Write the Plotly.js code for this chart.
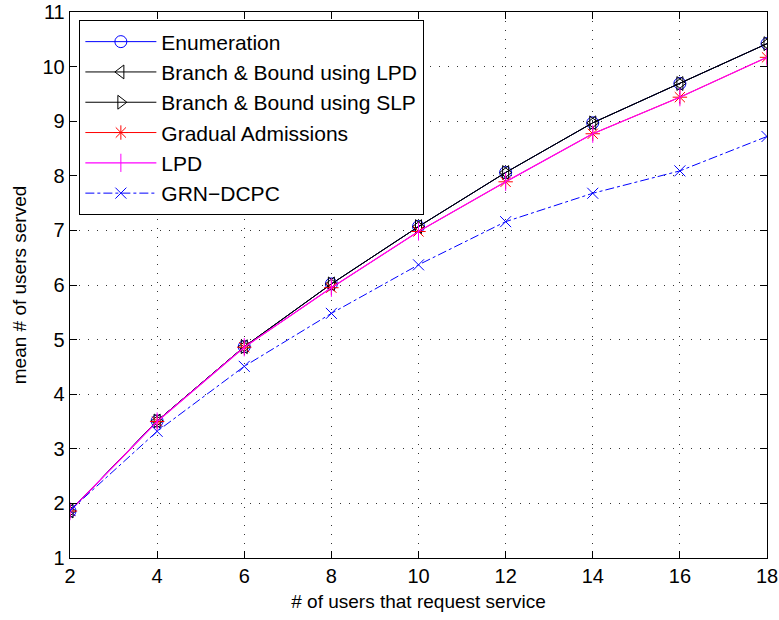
<!DOCTYPE html>
<html><head><meta charset="utf-8">
<script src="https://cdn.plot.ly/plotly-3.0.1.min.js"></script>
<style>body{margin:0;background:#fff}#plot{width:779px;height:620px}</style>
</head><body><div id="plot"></div>
<script>
const users = [2, 4, 6, 8, 10, 12, 14, 16, 18];
const enumeration = [1.86, 3.51, 4.87, 6.02, 7.07, 8.06, 8.97, 9.69, 10.42];
const bbLPD = [1.86, 3.51, 4.87, 6.02, 7.07, 8.06, 8.97, 9.69, 10.42];
const bbSLP = [1.86, 3.51, 4.87, 6.02, 7.07, 8.06, 8.97, 9.69, 10.42];
const gradual = [1.86, 3.50, 4.86, 5.95, 6.98, 7.89, 8.77, 9.44, 10.17];
const lpd = [1.86, 3.50, 4.86, 5.95, 6.98, 7.89, 8.77, 9.44, 10.17];
const grn = [1.87, 3.32, 4.51, 5.48, 6.37, 7.16, 7.68, 8.09, 8.72];

const font = "Liberation Sans, Arial, Helvetica, sans-serif";
const traces = [
  {x: users, y: enumeration, name: "Enumeration", mode: "lines+markers",
   line: {color: "#0000ff", width: 1}, marker: {symbol: "circle-open", size: 12, color: "#0000ff", line: {width: 1}}},
  {x: users, y: bbLPD, name: "Branch &amp; Bound using LPD", mode: "lines+markers",
   line: {color: "#000000", width: 1}, marker: {symbol: "triangle-left-open", size: 12, color: "#000000", line: {width: 1}}},
  {x: users, y: bbSLP, name: "Branch &amp; Bound using SLP", mode: "lines+markers",
   line: {color: "#000000", width: 1}, marker: {symbol: "triangle-right-open", size: 12, color: "#000000", line: {width: 1}}},
  {x: users, y: gradual, name: "Gradual Admissions", mode: "lines+markers",
   line: {color: "#ff0000", width: 1}, marker: {symbol: "asterisk-open", size: 12, color: "#ff0000", line: {width: 1, color: "#ff0000"}}},
  {x: users, y: lpd, name: "LPD", mode: "lines+markers",
   line: {color: "#ff00ff", width: 1.2}, marker: {symbol: "line-ns-open", size: 13, color: "#ff00ff", line: {width: 1, color: "#ff00ff"}}},
  {x: users, y: grn, name: "GRN\u2212DCPC", mode: "lines+markers",
   line: {color: "#0000ff", width: 1, dash: "dashdot"}, marker: {symbol: "x-thin-open", size: 11, color: "#0000ff", line: {width: 1, color: "#0000ff"}}}
];

const axisCommon = {
  showline: true, linecolor: "#000", linewidth: 1.3, mirror: "ticks",
  ticks: "inside", ticklen: 7, tickcolor: "#000",
  showgrid: true, gridcolor: "#333", griddash: "1px,8px", gridwidth: 1,
  zeroline: false, tickfont: {family: font, size: 20, color: "#000"}
};

const layout = {
  width: 779, height: 620,
  margin: {l: 70, r: 12, t: 12, b: 62},
  paper_bgcolor: "#fff", plot_bgcolor: "#fff",
  font: {family: font, color: "#000"},
  xaxis: Object.assign({}, axisCommon, {
    range: [2, 18], tickvals: [2, 4, 6, 8, 10, 12, 14, 16, 18],
    title: {text: "# of users that request service", font: {family: font, size: 19}, standoff: 8}
  }),
  yaxis: Object.assign({}, axisCommon, {
    range: [1, 11], tickvals: [1, 2, 3, 4, 5, 6, 7, 8, 9, 10, 11],
    title: {text: "mean # of users served", font: {family: font, size: 19}, standoff: 10}
  }),
  legend: {
    x: 0.013, y: 0.985, xanchor: "left", yanchor: "top",
    bgcolor: "#fff", bordercolor: "#000", borderwidth: 1.3,
    font: {family: font, size: 21, color: "#000"},
    tracegroupgap: 0, itemwidth: 71
  },
  showlegend: true
};

Plotly.newPlot("plot", traces, layout, {displayModeBar: false, staticPlot: true});
</script></body></html>
